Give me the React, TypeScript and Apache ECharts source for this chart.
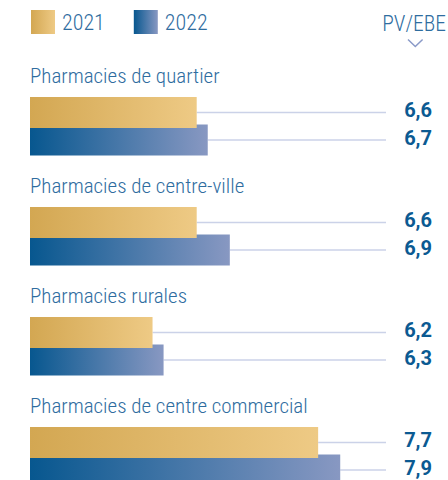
import React, { useEffect, useRef } from "react";
import * as echarts from "echarts";

const categories = [
  "Pharmacies de quartier",
  "Pharmacies de centre-ville",
  "Pharmacies rurales",
  "Pharmacies de centre commercial",
];
const years = ["2021", "2022"];
const values2021 = [6.6, 6.6, 6.2, 7.7];
const values2022 = [6.7, 6.9, 6.3, 7.9];
const unitLabel = "PV/EBE";

const BAR_W = 31;
const BAR_GAP = -0.11;
const TITLE_BLUE = "#2f6d9f";
const VALUE_BLUE = "#0b5a92";
const COND = "'Roboto Condensed', Roboto, sans-serif";

const goldGrad = () =>
  new echarts.graphic.LinearGradient(0, 0, 1, 0, [
    { offset: 0, color: "#d3a752" },
    { offset: 1, color: "#eeca85" },
  ]);
const blueGrad = () =>
  new echarts.graphic.LinearGradient(0, 0, 1, 0, [
    { offset: 0, color: "#07578f" },
    { offset: 1, color: "#8898c2" },
  ]);

export default function App() {
  const ref = useRef<HTMLDivElement>(null);
  useEffect(() => {
    if (!ref.current) return;
    const chart = echarts.init(ref.current, undefined, { renderer: "svg" });
    const allSeries = [values2021, values2022];
    const lineData: number[][] = [];
    categories.forEach((_, i) => {
      allSeries.forEach((vals, j) => lineData.push([i, vals[i], j]));
    });
    const total = BAR_W * 2 + BAR_GAP * BAR_W;
    chart.setOption({
      animation: false,
      legend: {
        data: years,
        left: 26,
        top: 5,
        itemWidth: 24,
        itemHeight: 24,
        itemGap: 29,
        icon: "rect",
        textStyle: {
          color: TITLE_BLUE,
          fontSize: 22,
          fontWeight: 300,
          fontFamily: COND,
          padding: [0, 0, 0, 2],
        },
      },
      graphic: [
        {
          type: "text",
          right: 2,
          top: 12,
          style: {
            text: unitLabel,
            fill: TITLE_BLUE,
            font: `300 21.5px ${COND}`,
          },
        },
        {
          type: "polyline",
          shape: {
            points: [
              [408, 39.5],
              [415.3, 46.5],
              [422.6, 39.5],
            ],
          },
          style: { stroke: "#8a9ac8", lineWidth: 1.5, fill: "none" },
        },
      ],
      grid: { left: 30, top: 71.2, width: 356, height: 440, outerBoundsMode: "none", containLabel: false },
      xAxis: {
        type: "value",
        min: 5.09,
        max: 5.09 + 356 / 110.4,
        show: false,
      },
      yAxis: {
        type: "category",
        data: categories,
        inverse: true,
        axisLine: { show: false },
        axisTick: { show: false },
        splitLine: { show: false },
        axisLabel: {
          inside: true,
          margin: 0,
          interval: 0,
          showMinLabel: true,
          showMaxLabel: true,
          hideOverlap: false,
          align: "left",
          verticalAlign: "middle",
          formatter: (v: string) => `{t|${v}}\n{s| }`,
          rich: {
            t: {
              color: TITLE_BLUE,
              fontSize: 21,
              fontWeight: 300,
              fontFamily: COND,
              lineHeight: 24,
            },
            s: { fontSize: 10, lineHeight: 101, height: 101 },
          },
        },
      },
      series: [
        {
          type: "custom",
          silent: true,
          z: 1,
          encode: { x: 1, y: 0 },
          data: lineData,
          renderItem: (params: any, api: any) => {
            const cat = api.value(0);
            const val = api.value(1);
            const idx = api.value(2);
            const p = api.coord([val, cat]);
            const yc = p[1] - total / 2 + BAR_W / 2 + idx * (BAR_W + BAR_GAP * BAR_W);
            const right = params.coordSys.x + params.coordSys.width;
            return {
              type: "group",
              children: [
                {
                  type: "line",
                  shape: { x1: p[0], y1: yc, x2: right, y2: yc },
                  style: { stroke: "#cbd2e8", lineWidth: 1.5 },
                },
                {
                  type: "text",
                  x: right + 46,
                  y: yc - 2,
                  style: {
                    text: val.toFixed(1).replace(".", ","),
                    fill: VALUE_BLUE,
                    font: "bold 20px Roboto, sans-serif",
                    align: "right",
                    verticalAlign: "middle",
                  },
                },
              ],
            };
          },
        },
        {
          name: "2021",
          type: "bar",
          data: values2021,
          barWidth: BAR_W,
          barGap: `${BAR_GAP * 100}%`,
          z: 4,
          itemStyle: { color: goldGrad() },
        },
        {
          name: "2022",
          type: "bar",
          data: values2022,
          barWidth: BAR_W,
          barGap: `${BAR_GAP * 100}%`,
          z: 3,
          itemStyle: { color: blueGrad() },
        },
      ],
    });
    return () => chart.dispose();
  }, []);
  return <div ref={ref} style={{ position: "absolute", left: 0, top: 0, width: 448, height: 480 }} />;
}
